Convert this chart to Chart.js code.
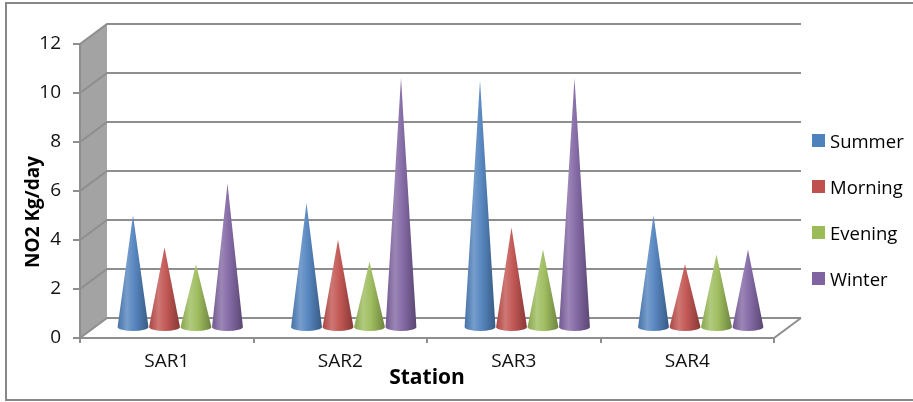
<!DOCTYPE html>
<html>
<head>
<meta charset="utf-8">
<script src="https://cdn.jsdelivr.net/npm/chart.js@4.4.1/dist/chart.umd.min.js"></script>
<style>
  html, body { margin: 0; padding: 0; background: #fff; overflow: hidden; }
  #wrap { position: relative; width: 913px; height: 402px; }
  #legend { position: absolute; left: 812px; top: 117px; font-family: "Open Sans", sans-serif; font-size: 18.5px; color: #000; }
  #legend .row { height: 46px; display: flex; align-items: center; }
  #legend .box { width: 13px; height: 13px; margin-right: 5px; }
</style>
</head>
<body>
<div id="wrap">
  <canvas id="chart" width="913" height="402"></canvas>
  <div id="legend"></div>
</div>
<script>
const stations = ["SAR1", "SAR2", "SAR3", "SAR4"];
const seriesNames = ["Summer", "Morning", "Evening", "Winter"];
const seriesColors = ["#4F81BD", "#C0504D", "#9BBB59", "#8064A2"];
const summer = [4.6, 5.1, 10.1, 4.6];
const morning = [3.3, 3.6, 4.1, 2.6];
const evening = [2.6, 2.7, 3.2, 3.0];
const winter = [5.9, 10.2, 10.2, 3.2];
const yMax = 12;
const yStep = 2;

// depth of the 3d box (back wall is up and to the right of the front axes)
const DX = 27, DY = 20;
const GRID = "#8e8e8e";
const FONT = "'Open Sans', sans-serif";

function shade(hex, f) {
  const n = parseInt(hex.slice(1), 16);
  let r = n >> 16, g = (n >> 8) & 255, b = n & 255;
  const t = f > 0 ? 255 : 0, p = Math.abs(f);
  r = Math.round(r + (t - r) * p);
  g = Math.round(g + (t - g) * p);
  b = Math.round(b + (t - b) * p);
  return `rgb(${r},${g},${b})`;
}

const box3d = {
  id: "box3d",
  beforeDraw(chart) {
    const { ctx, chartArea: a, scales: { y } } = chart;
    ctx.save();
    // outer frame
    ctx.strokeStyle = "#888";
    ctx.lineWidth = 2;
    ctx.strokeRect(6, 3, 930, 397);

    // left side wall
    const top = y.getPixelForValue(yMax), bot = y.getPixelForValue(0);
    ctx.fillStyle = "#a3a3a3";
    ctx.beginPath();
    ctx.moveTo(a.left, top);
    ctx.lineTo(a.left + DX, top - DY);
    ctx.lineTo(a.left + DX, bot - DY);
    ctx.lineTo(a.left, bot);
    ctx.closePath();
    ctx.fill();

    // gridlines across the side wall and the back wall
    ctx.strokeStyle = GRID;
    ctx.lineWidth = 2;
    for (let v = 0; v <= yMax; v += yStep) {
      const py = y.getPixelForValue(v);
      ctx.beginPath();
      ctx.moveTo(a.left, py);
      ctx.lineTo(a.left + DX, py - DY);
      ctx.lineTo(a.right + DX, py - DY);
      ctx.stroke();
    }
    // floor
    ctx.beginPath();
    ctx.moveTo(a.left, bot);
    ctx.lineTo(a.right, bot);
    ctx.lineTo(a.right + DX, bot - DY);
    ctx.stroke();

    // y axis title
    ctx.fillStyle = "#000";
    ctx.font = "bold 19px " + FONT;
    ctx.textAlign = "center";
    ctx.textBaseline = "middle";
    ctx.translate(34, 212);
    ctx.rotate(-Math.PI / 2);
    ctx.fillText("NO2 Kg/day", 0, 0);
    ctx.restore();
  },
  afterDatasetsDraw(chart) {
    const { ctx } = chart;
    const metas = chart.data.datasets.map((d, i) => chart.getDatasetMeta(i));
    ctx.save();
    for (let c = 0; c < stations.length; c++) {
      metas.forEach((meta, i) => {
        const el = meta.data[c];
        const { x, y, base, width } = el.getProps(["x", "y", "base", "width"], true);
        const cx = x + DX / 2, by = base - DY / 2, ty = y - DY / 2, w = width / 2;
        const col = seriesColors[i];
        const g = ctx.createLinearGradient(cx - w, 0, cx + w, 0);
        g.addColorStop(0, shade(col, -0.12));
        g.addColorStop(0.3, shade(col, 0.22));
        g.addColorStop(0.55, shade(col, 0.05));
        g.addColorStop(1, shade(col, -0.3));
        ctx.fillStyle = g;
        ctx.beginPath();
        ctx.moveTo(cx - w, by);
        ctx.lineTo(cx, ty);
        ctx.lineTo(cx + w, by);
        ctx.ellipse(cx, by, w, 4, 0, 0, Math.PI);
        ctx.closePath();
        ctx.fill();
      });
    }
    ctx.restore();
  }
};

const seriesData = [summer, morning, evening, winter];

new Chart(document.getElementById("chart"), {
  type: "bar",
  data: {
    labels: stations,
    datasets: seriesNames.map((name, i) => ({
      label: name,
      data: seriesData[i],
      backgroundColor: "rgba(0,0,0,0)",
      borderWidth: 0,
      categoryPercentage: 0.726,
      barPercentage: 0.98
    }))
  },
  options: {
    responsive: false,
    animation: false,
    layout: { padding: { top: 44, right: 139, bottom: 0, left: 0 } },
    plugins: { legend: { display: false }, tooltip: { enabled: false } },
    scales: {
      x: {
        grid: { display: true, drawOnChartArea: false, drawTicks: true, tickLength: 5, color: GRID, lineWidth: 2 },
        border: { display: true, color: GRID, width: 2 },
        ticks: { color: "#111", font: { family: FONT, size: 19 }, padding: 7 },
        title: { display: true, text: "Station", color: "#000", font: { family: FONT, size: 21, weight: "bold" }, padding: { top: 0, bottom: 11 } },
        afterFit: (s) => { s.height = 64; }
      },
      y: {
        min: 0,
        max: yMax,
        grid: { display: true, drawOnChartArea: false, drawTicks: true, tickLength: 7, color: GRID, lineWidth: 2 },
        border: { display: true, color: GRID, width: 2 },
        ticks: { stepSize: yStep, color: "#111", font: { family: FONT, size: 19 }, padding: 12 },
        afterFit: (s) => { s.width = 80; }
      }
    }
  },
  plugins: [box3d]
});

// legend
const legend = document.getElementById("legend");
seriesNames.forEach((name, i) => {
  const row = document.createElement("div");
  row.className = "row";
  row.innerHTML = `<span class="box" style="background:${seriesColors[i]}"></span><span>${name}</span>`;
  legend.appendChild(row);
});
</script>
</body>
</html>
